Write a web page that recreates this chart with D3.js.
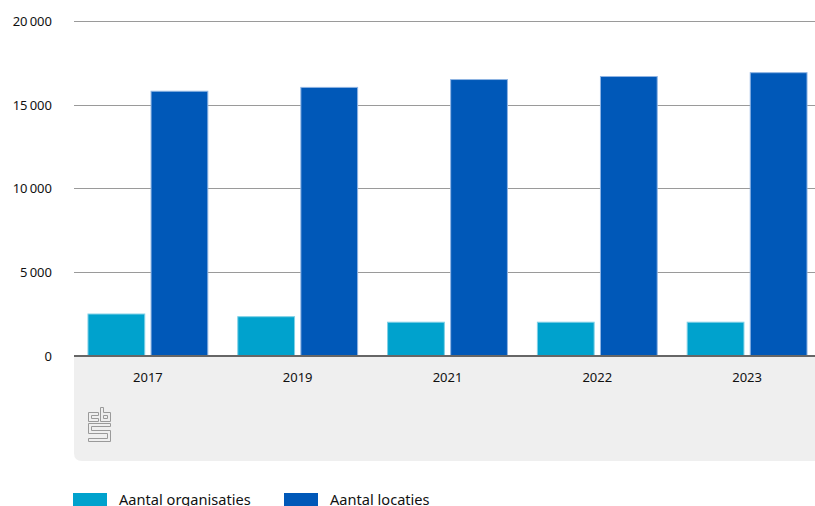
<!DOCTYPE html>
<html><head><meta charset="utf-8">
<script src="https://cdn.jsdelivr.net/npm/d3@7"></script>
<style>body{margin:0;background:#fff;}svg{display:block;font-family:"Noto Sans","DejaVu Sans",sans-serif;}</style>
</head><body>
<script>
const years = ["2017","2019","2021","2022","2023"];
const organisaties = [2480, 2320, 1990, 1990, 1990];
const locaties = [15800, 16030, 16500, 16680, 16910];
const seriesNames = ["Aantal organisaties","Aantal locaties"];
const yTicks = [0, 5000, 10000, 15000, 20000];
const colors = ["#00a2cd","#0058b8"];

(function(){
const W=815,H=506, mLeft=74, mRight=815, mTop=21, mBottom=355.5;
const svg=d3.select("body").append("svg").attr("width",W).attr("height",H);

const x=d3.scaleBand().domain(years).range([73,822]).paddingInner(0.2).paddingOuter(0.1);
const x0=d3.scaleBand().domain(years).range([73,822]);
const xs=d3.scaleBand().domain([0,1]).range([0,x.bandwidth()]).paddingInner(0.1);
const y=d3.scaleLinear().domain([0,20000]).range([mBottom,mTop]);

// grey footer panel
const px=mLeft, py=mBottom+1, pw=mRight-mLeft+10, ph=461-py, r=8;
svg.append("path").attr("fill","#efefef")
 .attr("d",`M${px},${py}H${px+pw}V${py+ph}H${px+r}Q${px},${py+ph} ${px},${py+ph-r}Z`);

// grid
svg.append("g").selectAll("line").data(yTicks.filter(d=>d>0)).join("line")
 .attr("x1",mLeft).attr("x2",mRight).attr("y1",d=>Math.round(y(d))+0.5).attr("y2",d=>Math.round(y(d))+0.5)
 .attr("stroke","#9a9a9a").attr("stroke-width",1);

// y labels
svg.append("g").selectAll("text").data(yTicks).join("text")
 .attr("x",52).attr("y",d=>y(d)+5).attr("text-anchor","end")
 .attr("font-size",13).attr("fill","#111")
 .text(d=>d3.format(",")(d).replace(",","\u2009"));

// bars
const data=years.map((yr,i)=>({yr,vals:[organisaties[i],locaties[i]]}));
const g=svg.append("g").selectAll("g").data(data).join("g")
 .attr("transform",d=>`translate(${x(d.yr)},0)`);
g.selectAll("rect").data(d=>d.vals.map((v,k)=>({v,k}))).join("rect")
 .attr("x",d=>xs(d.k)).attr("width",xs.bandwidth())
 .attr("y",d=>y(d.v)).attr("height",d=>mBottom-y(d.v))
 .attr("fill",d=>colors[d.k]).attr("stroke",d=>d.k? "#8fb4e3":"#7fd0e6").attr("stroke-width",1);

// axis line
svg.append("line").attr("x1",mLeft).attr("x2",mRight).attr("y1",mBottom+0.5).attr("y2",mBottom+0.5)
 .attr("stroke","#666").attr("stroke-width",2);

// x labels
svg.append("g").selectAll("text").data(years).join("text")
 .attr("x",d=>x0(d)+x0.bandwidth()/2).attr("y",382).attr("text-anchor","middle")
 .attr("font-size",13).attr("fill","#111").text(d=>d);

// CBS logo
const lg=svg.append("g").attr("transform","translate(88,407)").attr("fill","none").attr("stroke","#9a9a9a").attr("stroke-width",1);
lg.append("path").attr("d","M0.5,5.5H10.5V8.5H3.5V11.5H10.5V14.5H0.5Z");
lg.append("path").attr("d","M12.5,0.5H15.5V5.5H22.5V14.5H12.5Z M15.5,8.5H19.5V11.5H15.5Z");
lg.append("path").attr("d","M0.5,16.5H22.5V19.5H3.5V23.5H22.5V34.5H0.5V31.5H19.5V26.5H0.5Z");

// legend
const leg=svg.append("g").selectAll("g").data(seriesNames).join("g")
 .attr("transform",(d,i)=>`translate(${[73,284][i]},0)`);
leg.append("rect").attr("x",0).attr("y",493).attr("width",34).attr("height",14).attr("fill",(d,i)=>colors[i]);
leg.append("text").attr("x",46).attr("y",505).attr("font-size",14.6).attr("fill","#111").text(d=>d);
})();
</script>
</body></html>
